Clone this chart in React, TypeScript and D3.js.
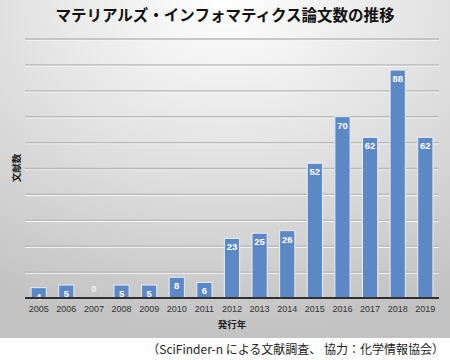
import { useEffect, useRef } from 'react'
import * as d3 from 'd3'

const YEARS = ['2005', '2006', '2007', '2008', '2009', '2010', '2011', '2012', '2013', '2014', '2015', '2016', '2017', '2018', '2019']
const COUNTS = [4, 5, 0, 5, 5, 8, 6, 23, 25, 26, 52, 70, 62, 88, 62]
const Y_TICKS = [0, 10, 20, 30, 40, 50, 60, 70, 80, 90, 100]

const TITLE = 'マテリアルズ・インフォマティクス論文数の推移'
const Y_LABEL = '文献数'
const X_LABEL = '発行年'
const CAPTION = '（SciFinder-n による文献調査、 協力：化学情報協会）'

const JP = '"Noto Sans CJK JP", "Noto Sans", sans-serif'

export default function App() {
  const svgRef = useRef<SVGSVGElement>(null)

  useEffect(() => {
    if (!svgRef.current) return
    const W = 450, H = 360
    const svg = d3.select(svgRef.current).attr('viewBox', `0 0 ${W} ${H}`)
    svg.selectAll('*').remove()
    const defs = svg.append('defs')

    // panel background
    const rg = defs.append('radialGradient').attr('id', 'bg')
      .attr('cx', '50%').attr('cy', '0%').attr('r', '100%').attr('fx', '50%').attr('fy', '0%')
    rg.append('stop').attr('offset', '0%').attr('stop-color', '#ffffff')
    rg.append('stop').attr('offset', '100%').attr('stop-color', '#c2c2c2')
    svg.append('rect').attr('width', W).attr('height', H).attr('fill', '#fff')
    svg.append('rect').attr('x', 0).attr('y', 0).attr('width', W).attr('height', 338).attr('fill', 'url(#bg)')

    const left = 25, right = 439, top = 39, bottom = 298
    const x = d3.scaleBand<string>().domain(YEARS).range([left, right]).paddingInner(0.45).paddingOuter(0.22)
    const y = d3.scaleLinear().domain([0, 100]).range([bottom, top])

    // grid
    const grid = svg.append('g')
    Y_TICKS.filter(t => t > 0).forEach(t => {
      grid.append('line').attr('x1', left).attr('x2', right).attr('y1', y(t) + 1.2).attr('y2', y(t) + 1.2)
        .attr('stroke', '#f6f6f6').attr('stroke-width', 1)
      grid.append('line').attr('x1', left).attr('x2', right).attr('y1', y(t)).attr('y2', y(t))
        .attr('stroke', '#b8b8b8').attr('stroke-width', 1.3)
    })

    // bars
    const bars = svg.append('g')
    YEARS.forEach((yr, i) => {
      const v = COUNTS[i]
      const bx = x(yr)!
      if (v > 0) {
        bars.append('rect').attr('x', bx).attr('y', y(v)).attr('width', x.bandwidth()).attr('height', bottom - y(v))
          .attr('fill', '#5d88c6').attr('stroke', '#e4ecf6').attr('stroke-width', 1)
      }
      bars.append('text').attr('x', bx + x.bandwidth() / 2).attr('y', y(v) + (v > 0 ? 12 : -6))
        .attr('text-anchor', 'middle').attr('fill', v > 0 ? '#ffffff' : '#f4f4f4')
        .attr('font-family', '"Liberation Sans", Arial, sans-serif').attr('font-size', 9.5).attr('font-weight', 700)
        .text(v)
    })

    // x axis
    svg.append('line').attr('x1', left).attr('x2', right).attr('y1', bottom).attr('y2', bottom)
      .attr('stroke', '#303030').attr('stroke-width', 2)
    const xa = svg.append('g').attr('transform', `translate(0,${bottom})`)
      .call(d3.axisBottom(x).tickSize(0).tickPadding(8))
    xa.select('.domain').remove()
    xa.selectAll('text').attr('fill', '#333').attr('font-size', 9)
      .attr('font-family', '"Liberation Sans", Arial, sans-serif')

    // titles
    svg.append('text').attr('x', 225).attr('y', 21).attr('text-anchor', 'middle')
      .attr('font-family', JP).attr('font-size', 15.5).attr('font-weight', 700).attr('fill', '#111')
      .text(TITLE)
    svg.append('text').attr('transform', 'translate(20,168) rotate(-90)').attr('text-anchor', 'middle')
      .attr('font-family', JP).attr('font-size', 9.5).attr('font-weight', 700).attr('fill', '#222')
      .text(Y_LABEL)
    svg.append('text').attr('x', 232).attr('y', 328).attr('text-anchor', 'middle')
      .attr('font-family', JP).attr('font-size', 9.5).attr('font-weight', 700).attr('fill', '#222')
      .text(X_LABEL)
    svg.append('text').attr('x', 444).attr('y', 354).attr('text-anchor', 'end')
      .attr('font-family', JP).attr('font-size', 12).attr('fill', '#222')
      .text(CAPTION)
  }, [])

  return (
    <svg ref={svgRef} width={450} height={360}
      style={{ position: 'absolute', left: 0, top: 0, display: 'block' }} />
  )
}
